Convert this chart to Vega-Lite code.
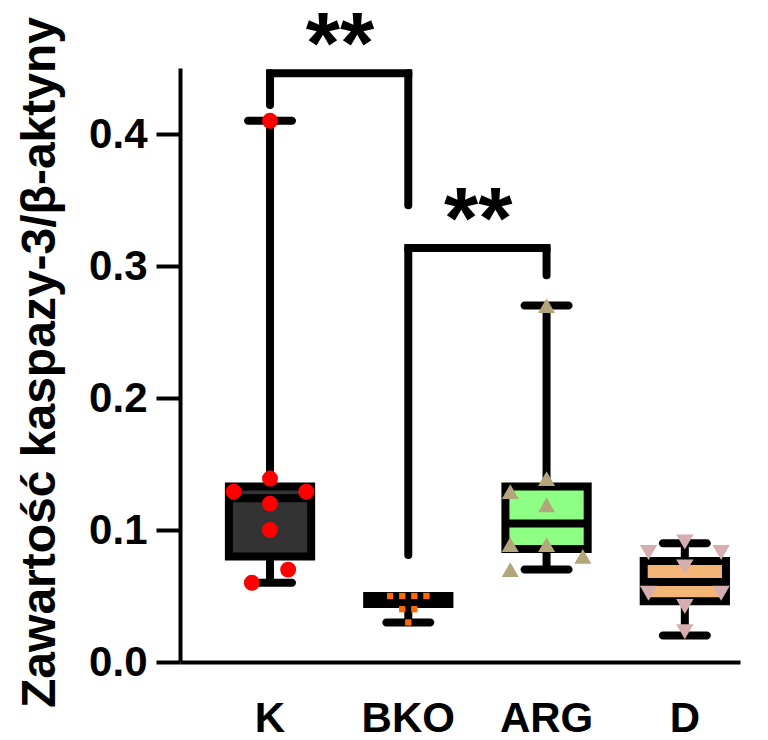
{
  "$schema": "https://vega.github.io/schema/vega-lite/v6.json",
  "width": 560,
  "height": 594,
  "autosize": {"type": "none"},
  "padding": {"left": 180, "top": 68, "right": 28, "bottom": 78},
  "background": "white",
  "config": {
    "view": {"stroke": null},
    "font": "Liberation Sans",
    "axis": {"grid": false, "domainColor": "black", "tickColor": "black", "labelColor": "black", "titleColor": "black"}
  },
  "resolve": {"scale": {"xOffset": "independent"}},
  "datasets": {
    "pts": [
      {"g": "K", "v": 0.41, "j": 0},
      {"g": "K", "v": 0.139, "j": 0},
      {"g": "K", "v": 0.129, "j": -3},
      {"g": "K", "v": 0.129, "j": 3},
      {"g": "K", "v": 0.12, "j": 0},
      {"g": "K", "v": 0.10, "j": 0},
      {"g": "K", "v": 0.07, "j": 1.5},
      {"g": "K", "v": 0.06, "j": -1.5},
      {"g": "BKO", "v": 0.05, "j": -1.5},
      {"g": "BKO", "v": 0.05, "j": -0.5},
      {"g": "BKO", "v": 0.05, "j": 0.5},
      {"g": "BKO", "v": 0.05, "j": 1.5},
      {"g": "BKO", "v": 0.04, "j": -0.5},
      {"g": "BKO", "v": 0.04, "j": 0.5},
      {"g": "BKO", "v": 0.03, "j": 0},
      {"g": "ARG", "v": 0.27, "j": 0},
      {"g": "ARG", "v": 0.139, "j": 0},
      {"g": "ARG", "v": 0.129, "j": -3},
      {"g": "ARG", "v": 0.119, "j": 0},
      {"g": "ARG", "v": 0.089, "j": -3},
      {"g": "ARG", "v": 0.089, "j": 0},
      {"g": "ARG", "v": 0.08, "j": 3},
      {"g": "ARG", "v": 0.07, "j": -3},
      {"g": "D", "v": 0.091, "j": 0},
      {"g": "D", "v": 0.083, "j": -3},
      {"g": "D", "v": 0.083, "j": 3},
      {"g": "D", "v": 0.072, "j": 0},
      {"g": "D", "v": 0.052, "j": -3},
      {"g": "D", "v": 0.052, "j": 3},
      {"g": "D", "v": 0.042, "j": 0},
      {"g": "D", "v": 0.023, "j": 0}
    ],
    "box": [
      {"g": "K", "lo": 0.06, "q1": 0.08, "med": 0.124, "q3": 0.133, "hi": 0.41},
      {"g": "BKO", "lo": 0.03, "q1": 0.044, "med": 0.048, "q3": 0.05, "hi": 0.05},
      {"g": "ARG", "lo": 0.07, "q1": 0.0856, "med": 0.105, "q3": 0.133, "hi": 0.27},
      {"g": "D", "lo": 0.02, "q1": 0.046, "med": 0.0606, "q3": 0.0765, "hi": 0.09}
    ],
    "hseg": [
      {"a": "K", "b": "BKO", "y": 0.446},
      {"a": "BKO", "b": "ARG", "y": 0.3136}
    ],
    "vseg": [
      {"a": "K", "y1": 0.446, "y2": 0.422},
      {"a": "BKO", "y1": 0.446, "y2": 0.346},
      {"a": "BKO", "y1": 0.3136, "y2": 0.081},
      {"a": "ARG", "y1": 0.3136, "y2": 0.293}
    ],
    "stars": [
      {"a": "K", "y": 0.4465, "t": "**"},
      {"a": "BKO", "y": 0.3135, "t": "**"}
    ]
  },
  "encoding": {
    "x": {
      "field": "g",
      "type": "nominal",
      "sort": ["K", "BKO", "ARG", "D"],
      "scale": {"domain": ["K", "BKO", "ARG", "D"], "paddingInner": 0.3, "paddingOuter": 0.175, "align": 0.86},
      "axis": {"title": null, "ticks": false, "labelAngle": 0, "labelFontSize": 42, "labelFontWeight": "bold", "labelPadding": 36, "domainWidth": 4, "labelFont": "Liberation Sans"}
    }
  },
  "layer": [
    {
      "data": {"name": "box"},
      "mark": {"type": "rule", "strokeWidth": 8, "color": "black"},
      "encoding": {
        "y": {
          "field": "lo", "type": "quantitative",
          "scale": {"domain": [0, 0.45], "nice": false, "zero": true},
          "axis": {
            "values": [0, 0.1, 0.2, 0.3, 0.4], "format": ".1f",
            "labelFontSize": 42, "labelFontWeight": "bold", "labelPadding": 9,
            "tickSize": 24, "tickWidth": 4, "domainWidth": 4,
            "title": "Zawartość kaspazy-3/β-aktyny",
            "titleFontSize": 48, "titleFontWeight": "bold",
            "titleX": -140, "titleY": 294, "titleAngle": -90, "titleBaseline": "middle", "titleAlign": "center"
          }
        },
        "y2": {"field": "hi"}
      }
    },
    {
      "data": {"name": "box"},
      "mark": {"type": "tick", "thickness": 8, "size": 52, "color": "black", "opacity": 1, "cornerRadius": 4},
      "encoding": {"y": {"field": "lo", "type": "quantitative"}}
    },
    {
      "data": {"name": "box"},
      "mark": {"type": "tick", "thickness": 8, "size": 52, "color": "black", "opacity": 1, "cornerRadius": 4},
      "encoding": {"y": {"field": "hi", "type": "quantitative"}}
    },
    {
      "data": {"name": "box"},
      "mark": {"type": "bar", "stroke": "black", "strokeWidth": 8, "width": {"band": 0.85}},
      "encoding": {
        "y": {"field": "q1", "type": "quantitative"},
        "y2": {"field": "q3"},
        "fill": {
          "field": "g", "type": "nominal", "legend": null,
          "scale": {"domain": ["K", "BKO", "ARG", "D"], "range": ["#333333", "#f0883a", "#8cff84", "#f4b677"]}
        }
      }
    },
    {
      "data": {"name": "box"},
      "mark": {"type": "tick", "thickness": 8, "size": 82, "color": "black", "opacity": 1},
      "encoding": {"y": {"field": "med", "type": "quantitative"}}
    },
    {
      "data": {"name": "hseg"},
      "mark": {"type": "rule", "strokeWidth": 8, "color": "black", "strokeCap": "square"},
      "encoding": {
        "x": {"field": "a", "type": "nominal", "bandPosition": 0.5},
        "x2": {"field": "b", "bandPosition": 0.5},
        "y": {"field": "y", "type": "quantitative"}
      }
    },
    {
      "data": {"name": "vseg"},
      "mark": {"type": "rule", "strokeWidth": 8, "color": "black", "strokeCap": "round"},
      "encoding": {
        "x": {"field": "a", "type": "nominal"},
        "y": {"field": "y1", "type": "quantitative"},
        "y2": {"field": "y2"}
      }
    },
    {
      "data": {"name": "stars"},
      "mark": {"type": "text", "fontSize": 88, "fontWeight": "bold", "dx": 70, "baseline": "alphabetic", "align": "center", "color": "black"},
      "encoding": {
        "x": {"field": "a", "type": "nominal"},
        "y": {"field": "y", "type": "quantitative"},
        "text": {"field": "t"}
      }
    },
    {
      "data": {"name": "pts"},
      "mark": {"type": "point", "filled": true, "opacity": 1, "strokeWidth": 0},
      "encoding": {
        "y": {"field": "v", "type": "quantitative"},
        "xOffset": {"field": "j", "type": "quantitative", "scale": {"domain": [-4, 4]}},
        "shape": {
          "field": "g", "type": "nominal", "legend": null,
          "scale": {"domain": ["K", "BKO", "ARG", "D"], "range": ["circle", "square", "triangle-up", "triangle-down"]}
        },
        "color": {
          "field": "g", "type": "nominal", "legend": null,
          "scale": {"domain": ["K", "BKO", "ARG", "D"], "range": ["#ff0000", "#ff6a00", "#b3a67a", "#d6aeb0"]}
        },
        "size": {
          "field": "g", "type": "nominal", "legend": null,
          "scale": {"type": "ordinal", "domain": ["K", "BKO", "ARG", "D"], "range": [254, 40, 290, 300]}
        }
      }
    }
  ]
}
